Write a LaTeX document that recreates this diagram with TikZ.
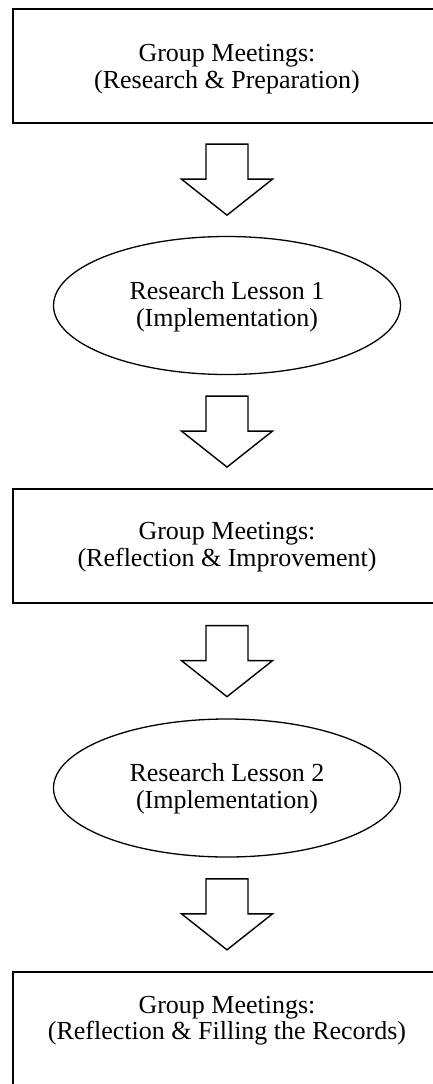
\documentclass[tikz,border=0pt]{standalone}
\usepackage{fontspec}
\setmainfont{Liberation Serif}
\usetikzlibrary{shapes.geometric,calc}
\begin{document}
\begin{tikzpicture}[x=1pt,y=-1pt,
  stagebox/.style={draw, line width=2pt, rectangle, minimum width=428pt,
    minimum height=114pt, inner sep=0pt},
  lessonoval/.style={draw, line width=1.3pt, ellipse, minimum width=347pt,
    minimum height=138pt, inner sep=0pt},
  caption/.style={font=\fontsize{26}{26.5}\selectfont, align=center,
    inner sep=0pt},
  blockarrow/.style={draw, line width=1.4pt, line join=miter}]
\useasboundingbox (0,0) rectangle (433,1084);
\clip (0,0) rectangle (433,1084);

% stages of the cycle
\node[stagebox]   (s1) at (227,65.5) {};
\node[lessonoval] (s2) at (227,305.5) {};
\node[stagebox]   (s3) at (227,546) {};
\node[lessonoval] (s4) at (227,788) {};
\node[stagebox, anchor=north] (s5) at (227,971) {};

% stage texts
\node[caption] (t1) at (227,69)     {Group Meetings:\\(Research \& Preparation)};
\node[caption] (t2) at (227,306.5)  {Research Lesson 1\\(Implementation)};
\node[caption] (t3) at (227,547)    {Group Meetings:\\(Reflection \& Improvement)};
\node[caption] (t4) at (227,788.5)  {Research Lesson 2\\(Implementation)};
\node[caption] (t5) at (227,1020.5) {Group Meetings:\\(Reflection \& Filling the Records)};

% hollow block arrows, centred in the gap between consecutive stages
\foreach \a/\b in {s1/s2, s2/s3, s3/s4, s4/s5} {
  \coordinate (m) at ($(\a.south)!0.5!(\b.north)$);
  \draw[blockarrow] ($(m)+(-21,-35.5)$) -- ++(42,0) -- ++(0,35)
    -- ++(24.5,0) -- ++(-45.5,36) -- ++(-45.5,-36) -- ++(24.5,0) -- cycle;
}
\end{tikzpicture}
\end{document}
